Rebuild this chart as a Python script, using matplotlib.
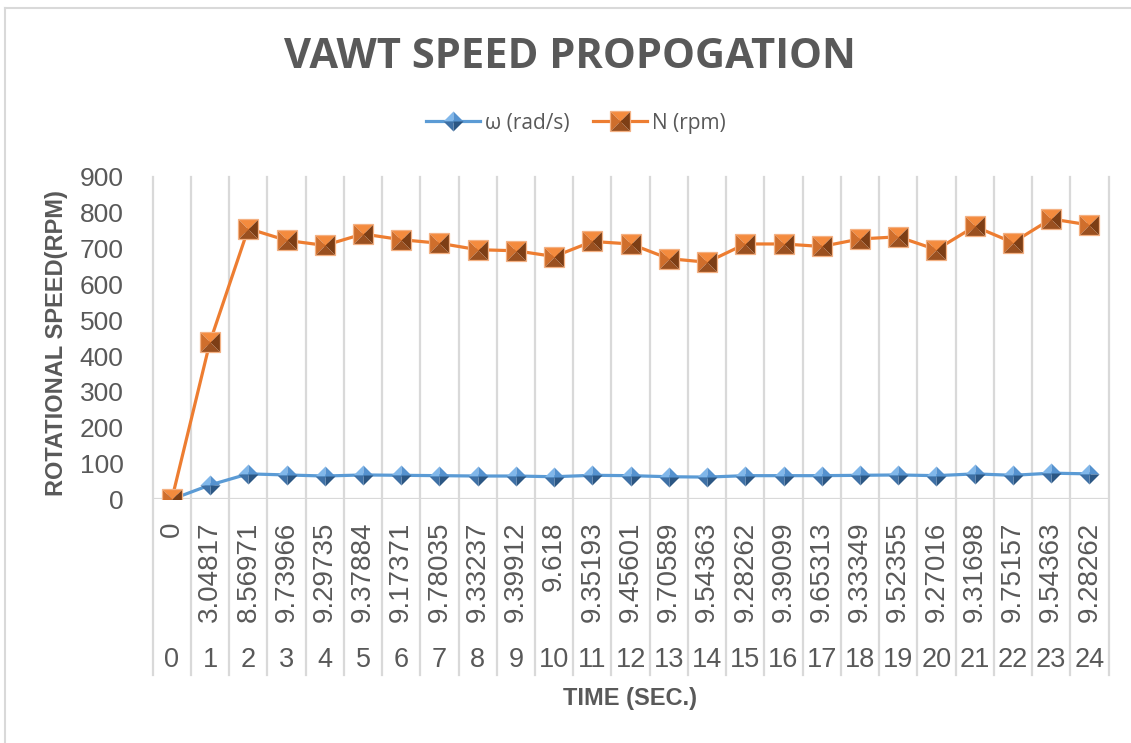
import matplotlib
matplotlib.use("Agg")
import matplotlib.pyplot as plt
from matplotlib import font_manager
from matplotlib.lines import Line2D
from matplotlib.legend_handler import HandlerTuple

# ---------------- data ----------------
time_sec = list(range(25))
omega_labels = ["0", "3.04817", "8.56971", "9.73966", "9.29735", "9.37884",
                "9.17371", "9.78035", "9.33237", "9.39912", "9.618", "9.35193",
                "9.45601", "9.70589", "9.54363", "9.28262", "9.39099", "9.65313",
                "9.33349", "9.52355", "9.27016", "9.31698", "9.75157", "9.54363",
                "9.28262"]
omega_rad_s = [0, 40, 71, 68, 65, 68, 67, 66, 65, 65, 63, 67, 66,
               63, 62, 66, 66, 66, 67, 68, 66, 71, 67, 73, 71]
n_rpm = [0, 440, 756, 723, 709, 741, 725, 715, 697, 694, 678, 720, 713,
         672, 662, 713, 713, 706, 727, 733, 697, 762, 717, 783, 766]
series_names = ["ω (rad/s)", "N (rpm)"]
y_ticks = [0, 100, 200, 300, 400, 500, 600, 700, 800, 900]


def has_font(name):
    try:
        font_manager.findfont(font_manager.FontProperties(family=name),
                              fallback_to_default=False)
        return True
    except Exception:
        return False


narrow = has_font("Liberation Sans Narrow")
AX_TITLE_FAMILY = "Liberation Sans Narrow" if narrow else "Liberation Sans"
AX_TITLE_SIZE = 21 if narrow else 17

TXT = "#595959"
GRID = "#D9D9D9"
BLUE = "#5B9BD5"
ORANGE = "#ED7D31"

W, H = 1131, 743
fig = plt.figure(figsize=(W / 100, H / 100), dpi=100)
fig.patch.set_facecolor("white")

x0, x1 = 152.7, 1108.5
y0, y1 = 499.3, 177.0
ax = fig.add_axes([x0 / W, 1 - y0 / H, (x1 - x0) / W, (y0 - y1) / H])
ax.set_xlim(-0.5, len(time_sec) - 0.5)
ax.set_ylim(0, 900)
for s in ax.spines.values():
    s.set_visible(False)
ax.set_xticks([])
ax.set_yticks(y_ticks)
ax.set_yticklabels([str(v) for v in y_ticks], fontsize=19,
                   family="Liberation Sans", color=TXT)
ax.tick_params(axis="y", length=0, pad=21)

# grid / category boundaries extending through label area
bottom_frac = -(675 - y0) / (y0 - y1)
trans = ax.get_xaxis_transform()
for b in [i - 0.5 for i in range(len(time_sec) + 1)]:
    ax.plot([b, b], [1, bottom_frac], transform=trans, color=GRID, lw=1.6,
            clip_on=False, zorder=0)
ax.axhline(0, color=GRID, lw=1.6, zorder=0)

# multi-level category labels
inner_frac = -(521.5 - y0) / (y0 - y1)
outer_frac = -(660 - y0) / (y0 - y1)
for x, lab in zip(time_sec, omega_labels):
    ax.text(x, inner_frac, lab, transform=trans, rotation=90, ha="center",
            va="top", fontsize=20, family="Liberation Sans", color=TXT)
for x in time_sec:
    ax.text(x, outer_frac, str(x), transform=trans, ha="center",
            va="center", fontsize=19.5, family="Liberation Sans", color=TXT)

# markers (pyramid-shaded)
sq_faces = [([(-1, 1), (1, 1), (0, 0)], "#F48B3E"),
            ([(-1, 1), (0, 0), (-1, -1)], "#CF6E2C"),
            ([(1, 1), (1, -1), (0, 0)], "#7D3E15"),
            ([(-1, -1), (0, 0), (1, -1)], "#9A5020")]
di_faces = [([(-1, 0), (0, 1), (0, 0)], "#80B7EA"),
            ([(0, 1), (1, 0), (0, 0)], "#5592CF"),
            ([(1, 0), (0, -1), (0, 0)], "#2B5683"),
            ([(0, -1), (-1, 0), (0, 0)], "#3E70A5")]
MS = 14.4

ax.plot(time_sec, omega_rad_s, color=BLUE, lw=2.3, zorder=2)
ax.plot(time_sec, n_rpm, color=ORANGE, lw=2.3, zorder=4)

blue_handles = [Line2D([], [], color=BLUE, lw=2.3)]
for verts, c in di_faces:
    ax.plot(time_sec, omega_rad_s, ls="none", marker=verts, ms=MS,
            mfc=c, mew=0, zorder=3)
    blue_handles.append(Line2D([], [], ls="none", marker=verts, ms=MS,
                               mfc=c, mew=0))
orange_handles = [Line2D([], [], color=ORANGE, lw=2.3)]
for verts, c in sq_faces:
    ax.plot(time_sec, n_rpm, ls="none", marker=verts, ms=MS,
            mfc=c, mew=0, zorder=5)
    orange_handles.append(Line2D([], [], ls="none", marker=verts, ms=MS,
                                 mfc=c, mew=0))
ax.plot(time_sec, n_rpm, ls="none", marker="s", ms=MS, mfc="none",
        mec="#F4B183", mew=0.9, zorder=6)
orange_handles.append(Line2D([], [], ls="none", marker="s", ms=MS,
                             mfc="none", mec="#F4B183", mew=0.9))

fig.legend([tuple(blue_handles), tuple(orange_handles)], series_names,
           handler_map={tuple: HandlerTuple(ndivide=1, pad=0)},
           loc="center", bbox_to_anchor=(576 / W, 1 - 123 / H), ncol=2,
           frameon=False, prop={"family": "Open Sans", "size": 15},
           labelcolor=TXT, handlelength=2.6, handletextpad=0.25,
           columnspacing=1.1)

# titles
fig.text(570 / W, 1 - 57 / H, "VAWT SPEED PROPOGATION", ha="center",
         va="center", fontsize=30, weight="bold", family="Open Sans",
         color=TXT)
fig.text(57 / W, 1 - 343 / H, "ROTATIONAL SPEED(RPM)", rotation=90,
         ha="center", va="center", fontsize=AX_TITLE_SIZE, weight="bold",
         family=AX_TITLE_FAMILY, color=TXT)
fig.text(630 / W, 1 - 698 / H, "TIME (SEC.)", ha="center", va="center",
         fontsize=AX_TITLE_SIZE, weight="bold", family=AX_TITLE_FAMILY,
         color=TXT)

# chart border (top and left visible)
fig.add_artist(Line2D([5 / W, 1], [1 - 8 / H, 1 - 8 / H], color=GRID, lw=1.5,
                      transform=fig.transFigure))
fig.add_artist(Line2D([5 / W, 5 / W], [0, 1 - 8 / H], color=GRID, lw=1.5,
                      transform=fig.transFigure))

fig.savefig("out.png", dpi=100)
